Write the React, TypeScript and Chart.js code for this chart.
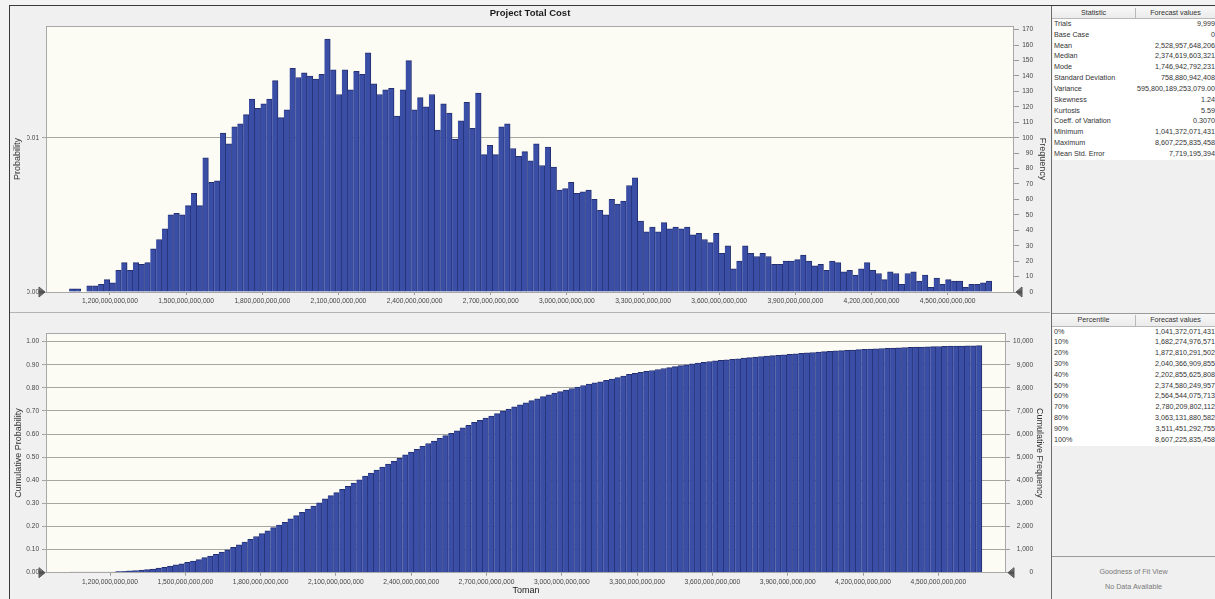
import React, { useEffect, useRef } from 'react';
import { Chart, registerables } from 'chart.js';

Chart.register(...registerables);

// ---------- data ----------
const TRIALS = 9999;
const BIN_START = 1039e9; // left edge of first histogram bin (Toman)
const BIN_WIDTH = 22.86e9; // bin width (Toman)

const frequencies = [
  2, 2, 0, 4, 4, 5, 8, 6, 14, 19, 14, 19, 18, 19, 28, 34, 41, 50, 51, 50, 56, 64, 56, 87, 71, 72,
  103, 96, 107, 109, 115, 125, 119, 122, 125, 137, 113, 118, 145, 139, 142, 140, 138, 141, 164, 144,
  128, 144, 131, 143, 141, 155, 135, 128, 131, 132, 114,
  131, 150, 118, 126, 120, 128, 105, 122, 116, 99, 111, 123, 106, 129, 89, 95, 89, 107, 109, 93,
  88, 91, 85, 96, 82, 94, 81, 66, 67, 71, 64, 65, 66, 60, 53, 50, 60, 57, 59, 69, 74, 46, 39, 42,
  39, 45, 41, 42, 41, 42, 37, 38, 34, 32, 38, 25, 30, 15, 20, 30, 25, 23, 25, 23, 18, 18, 20, 20, 21,
  24, 20, 17, 18, 14, 20, 19, 13, 14, 11, 15, 19, 14, 12, 8, 13, 12, 5, 12, 13, 7, 11, 3, 9, 5, 8,
  7, 7, 3, 5, 5, 6, 7,
];

const xTickValues = [1.2e12, 1.5e12, 1.8e12, 2.1e12, 2.4e12, 2.7e12, 3.0e12, 3.3e12, 3.6e12, 3.9e12, 4.2e12, 4.5e12];
const freqTicks = [0, 10, 20, 30, 40, 50, 60, 70, 80, 90, 100, 110, 120, 130, 140, 150, 160, 170];
const probTicks = [0, 0.01];
const cumProbTicks = [0, 0.1, 0.2, 0.3, 0.4, 0.5, 0.6, 0.7, 0.8, 0.9, 1.0];
const cumFreqTicks = [0, 1000, 2000, 3000, 4000, 5000, 6000, 7000, 8000, 9000, 10000];

const statNames = ['Trials', 'Base Case', 'Mean', 'Median', 'Mode', 'Standard Deviation', 'Variance', 'Skewness', 'Kurtosis', 'Coeff. of Variation', 'Minimum', 'Maximum', 'Mean Std. Error'];
const statValues = ['9,999', '0', '2,528,957,648,206', '2,374,619,603,321', '1,746,942,792,231', '758,880,942,408', '595,800,189,253,079.00', '1.24', '5.59', '0.3070', '1,041,372,071,431', '8,607,225,835,458', '7,719,195,394'];
const percentileNames = ['0%', '10%', '20%', '30%', '40%', '50%', '60%', '70%', '80%', '90%', '100%'];
const percentileValues = ['1,041,372,071,431', '1,682,274,976,571', '1,872,810,291,502', '2,040,366,909,855', '2,202,855,625,808', '2,374,580,249,957', '2,564,544,075,713', '2,780,209,802,112', '3,063,131,880,582', '3,511,451,292,755', '8,607,225,835,458'];

// ---------- derived ----------
const binCenters = frequencies.map((_, i) => BIN_START + (i + 0.5) * BIN_WIDTH);
const cumulative: number[] = [];
frequencies.reduce((acc, f) => { const s = acc + f; cumulative.push(s); return s; }, 0);

// ---------- style ----------
const FONT = "'Liberation Sans', Arial, sans-serif";
const BAR_FILL = '#3a4ea6';
const BAR_EDGE = '#242f70';
const PLOT_BG = '#fcfcf4';
const TICK_COLOR = '#444';
const GRID_COLOR = '#a6a6a0';

const frame = {
  id: 'frame',
  beforeDraw(chart: any) {
    const { ctx, chartArea: a } = chart;
    ctx.save();
    ctx.fillStyle = PLOT_BG;
    ctx.fillRect(a.left, a.top, a.right - a.left, a.bottom - a.top);
    ctx.restore();
  },
  afterDraw(chart: any) {
    const { ctx, chartArea: a } = chart;
    ctx.save();
    ctx.strokeStyle = '#a8a8a8';
    ctx.lineWidth = 1;
    ctx.strokeRect(Math.round(a.left) + 0.5, Math.round(a.top) + 0.5, Math.round(a.right - a.left) - 1, Math.round(a.bottom - a.top));
    // certainty grabbers
    const tri = (tipX: number, baseX: number, y: number) => {
      const g = ctx.createLinearGradient(0, y - 5, 0, y + 5);
      g.addColorStop(0, '#9a9a9a');
      g.addColorStop(0.5, '#4a4a4a');
      g.addColorStop(1, '#8a8a8a');
      ctx.beginPath();
      ctx.moveTo(tipX, y);
      ctx.lineTo(baseX, y - 5);
      ctx.lineTo(baseX, y + 5);
      ctx.closePath();
      ctx.fillStyle = g;
      ctx.fill();
      ctx.strokeStyle = '#555';
      ctx.stroke();
    };
    tri(a.left - 1, a.left - 7, a.bottom);
    tri(a.right + 2, a.right + 8, a.bottom);
    ctx.restore();
  },
};

const fixTicks = (vals: number[]) => (s: any) => { s.ticks = vals.map((v) => ({ value: v })); };
const fmtBig = (v: any) => Number(v).toLocaleString('en-US');

function xAxis(min: number, max: number, height: number, title?: any) {
  return {
    type: 'linear',
    min, max,
    offset: false,
    afterBuildTicks: fixTicks(xTickValues),
    afterFit: (s: any) => { s.height = height; },
    ticks: { autoSkip: false, maxRotation: 0, minRotation: 0, padding: 2, color: TICK_COLOR, font: { family: FONT, size: 6.7 }, callback: fmtBig },
    grid: { drawOnChartArea: false, drawTicks: true, tickLength: 3, color: '#999', offset: false },
    border: { display: false },
    title: title || { display: false },
  };
}

function topConfig(): any {
  return {
    type: 'bar',
    data: {
      datasets: [{
        data: binCenters.map((x, i) => ({ x, y: frequencies[i] })),
        yAxisID: 'yF',
        backgroundColor: BAR_FILL,
        borderColor: BAR_EDGE,
        borderWidth: { top: 1, right: 1, left: 0, bottom: 0 },
        borderSkipped: false,
        barPercentage: 1,
        categoryPercentage: 1,
      }],
    },
    options: {
      responsive: false,
      animation: false,
      events: [],
      layout: { padding: { left: 17, top: 0, bottom: 0, right: 17 } },
      plugins: {
        legend: { display: false },
        tooltip: { enabled: false },
        title: { display: true, text: 'Project Total Cost', color: '#1a1a1a', font: { family: FONT, size: 9.5, weight: 'bold', lineHeight: 1.2 }, padding: { top: 1.5, bottom: 7.1 } },
      },
      scales: {
        x: xAxis(947.9e9, 4761.4e9, 20),
        yP: {
          position: 'left', min: 0, max: 172.4 / TRIALS,
          afterBuildTicks: fixTicks(probTicks),
          afterFit: (s: any) => { s.width = 19; },
          ticks: { padding: 3, color: TICK_COLOR, font: { family: FONT, size: 6.5 }, callback: (v: any) => Number(v).toFixed(2) },
          grid: { drawOnChartArea: true, drawTicks: true, tickLength: 4, color: GRID_COLOR },
          border: { display: false },
          title: { display: true, text: 'Probability', color: '#333', font: { family: FONT, size: 9 }, padding: { top: -14.4, bottom: 0 } },
        },
        yF: {
          position: 'right', min: 0, max: 172.4,
          afterBuildTicks: fixTicks(freqTicks),
          afterFit: (s: any) => { s.width = 19; },
          ticks: { padding: 3, crossAlign: 'far', color: TICK_COLOR, font: { family: FONT, size: 6.5 } },
          grid: { drawOnChartArea: false, drawTicks: true, tickLength: 5, color: '#999' },
          border: { display: false },
          title: { display: true, text: 'Frequency', color: '#333', font: { family: FONT, size: 9 }, padding: { top: -15.1, bottom: 0 } },
        },
      },
    },
    plugins: [frame],
  };
}

function bottomConfig(): any {
  return {
    type: 'bar',
    data: {
      datasets: [{
        data: binCenters.map((x, i) => ({ x, y: cumulative[i] / TRIALS })),
        yAxisID: 'yCP',
        backgroundColor: BAR_FILL,
        borderColor: BAR_EDGE,
        borderWidth: { top: 1, right: 1, left: 0, bottom: 0 },
        borderSkipped: false,
        barPercentage: 1,
        categoryPercentage: 1,
      }],
    },
    options: {
      responsive: false,
      animation: false,
      events: [],
      layout: { padding: { top: 20.3, left: 0, right: 17, bottom: 0 } },
      plugins: { legend: { display: false }, tooltip: { enabled: false } },
      scales: {
        x: xAxis(945e9, 4769.7e9, 26.3, { display: true, text: 'Toman', color: '#222', font: { family: FONT, size: 9 }, padding: { top: 0, bottom: 2.9 } }),
        yCP: {
          position: 'left', min: 0, max: 1.036,
          afterBuildTicks: fixTicks(cumProbTicks),
          afterFit: (s: any) => { s.width = 36; },
          ticks: { padding: 3, color: TICK_COLOR, font: { family: FONT, size: 6.5 }, callback: (v: any) => Number(v).toFixed(2) },
          grid: { drawOnChartArea: true, drawTicks: true, tickLength: 4, color: GRID_COLOR },
          border: { display: false },
          title: { display: true, text: 'Cumulative Probability', color: '#333', font: { family: FONT, size: 9 }, padding: { top: 2.9, bottom: 0 } },
        },
        yCF: {
          position: 'right', min: 0, max: 10360,
          afterBuildTicks: fixTicks(cumFreqTicks),
          afterFit: (s: any) => { s.width = 27; },
          ticks: { padding: 3, crossAlign: 'far', color: TICK_COLOR, font: { family: FONT, size: 6.5 }, callback: fmtBig },
          grid: { drawOnChartArea: false, drawTicks: true, tickLength: 4, color: '#999' },
          border: { display: false },
          title: { display: true, text: 'Cumulative Frequency', color: '#333', font: { family: FONT, size: 9 }, padding: { top: -11.4, bottom: 0 } },
        },
      },
    },
    plugins: [frame],
  };
}

// ---------- tables ----------
const ROW_H = 10.83;
const cellFont: React.CSSProperties = { fontFamily: FONT, fontSize: 7.2, color: '#333', whiteSpace: 'nowrap' };

function Table(props: { top: number; headerH: number; h1: string; h2: string; names: string[]; values: string[] }) {
  const { top, headerH, h1, h2, names, values } = props;
  const rowsTop = top + headerH;
  return (
    <>
      <div style={{ position: 'absolute', left: 1052, top, width: 163, height: headerH, background: 'linear-gradient(#f7f7f7,#ebebeb)', borderBottom: '1px solid #b8b8b8', boxSizing: 'border-box' }} />
      <div style={{ position: 'absolute', left: 1135, top: top + 1, width: 1, height: headerH - 2, background: '#b8b8b8' }} />
      <div style={{ ...cellFont, position: 'absolute', left: 1052, top, width: 83, height: headerH, lineHeight: headerH + 'px', textAlign: 'center' }}>{h1}</div>
      <div style={{ ...cellFont, position: 'absolute', left: 1136, top, width: 79, height: headerH, lineHeight: headerH + 'px', textAlign: 'center' }}>{h2}</div>
      <div style={{ position: 'absolute', left: 1053, top: rowsTop, width: 162, height: names.length * ROW_H, background: '#ffffff' }} />
      {names.map((n, i) => (
        <React.Fragment key={n}>
          <div style={{ ...cellFont, position: 'absolute', left: 1054, top: rowsTop + i * ROW_H, height: ROW_H, lineHeight: ROW_H + 'px' }}>{n}</div>
          <div style={{ ...cellFont, position: 'absolute', right: 0, top: rowsTop + i * ROW_H, height: ROW_H, lineHeight: ROW_H + 'px', textAlign: 'right' }}>{values[i]}</div>
        </React.Fragment>
      ))}
    </>
  );
}

export default function App() {
  const topRef = useRef<HTMLCanvasElement>(null);
  const botRef = useRef<HTMLCanvasElement>(null);

  useEffect(() => {
    const top = new Chart(topRef.current as HTMLCanvasElement, topConfig());
    const bot = new Chart(botRef.current as HTMLCanvasElement, bottomConfig());
    return () => { top.destroy(); bot.destroy(); };
  }, []);

  return (
    <div style={{ position: 'absolute', left: 0, top: 0, width: 1215, height: 599, overflow: 'hidden', background: '#f3f3f3' }}>
      {/* left panels */}
      <div style={{ position: 'absolute', left: 10, top: 6, width: 1040, height: 593, background: '#f0f0f0' }} />
      <canvas ref={topRef} width={1040} height={306} style={{ position: 'absolute', left: 10, top: 6, display: 'block' }} />
      <div style={{ position: 'absolute', left: 10, top: 312, width: 1040, height: 1, background: '#b4b4b4' }} />
      <canvas ref={botRef} width={1040} height={286} style={{ position: 'absolute', left: 10, top: 313, display: 'block' }} />
      {/* window borders */}
      <div style={{ position: 'absolute', left: 9, top: 5, width: 1206, height: 1, background: '#3a3a3a' }} />
      <div style={{ position: 'absolute', left: 9, top: 5, width: 1, height: 594, background: '#3a3a3a' }} />
      {/* right column */}
      <div style={{ position: 'absolute', left: 1051, top: 6, width: 164, height: 593, background: '#f0f0f0' }} />
      <div style={{ position: 'absolute', left: 1051, top: 6, width: 1, height: 593, background: '#6a6a6a' }} />
      <Table top={7} headerH={12} h1="Statistic" h2="Forecast values" names={statNames} values={statValues} />
      <div style={{ position: 'absolute', left: 1052, top: 313, width: 163, height: 1, background: '#9a9a9a' }} />
      <Table top={314} headerH={12.5} h1="Percentile" h2="Forecast values" names={percentileNames} values={percentileValues} />
      <div style={{ position: 'absolute', left: 1052, top: 556, width: 163, height: 1, background: '#9a9a9a' }} />
      <div style={{ ...cellFont, color: '#7a7a7a', position: 'absolute', left: 1052, top: 566, width: 163, textAlign: 'center', lineHeight: '11px' }}>Goodness of Fit View</div>
      <div style={{ ...cellFont, color: '#7a7a7a', position: 'absolute', left: 1052, top: 581, width: 163, textAlign: 'center', lineHeight: '11px' }}>No Data Available</div>
    </div>
  );
}
